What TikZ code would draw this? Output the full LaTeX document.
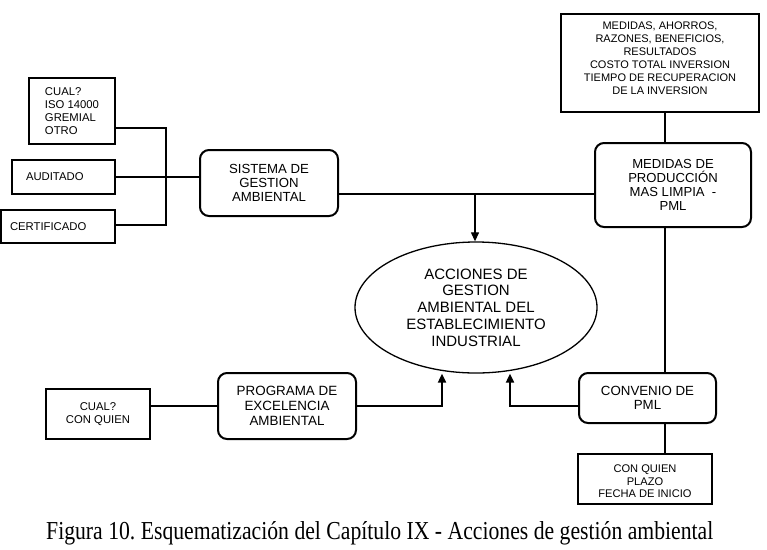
\documentclass[tikz,border=0pt]{standalone}
\usepackage{fontspec}
\usepackage{graphicx}
\setmainfont{Liberation Sans}
\newfontfamily\capfont{Liberation Serif}
\usetikzlibrary{arrows.meta,shapes.geometric}
\frenchspacing
\tikzset{
  rbox/.style={draw, line width=2.4pt, rectangle, inner sep=0pt, align=center},
  rrbox/.style={draw, line width=2pt, rectangle, rounded corners=9pt, inner sep=0pt, align=center},
  conn/.style={line width=2pt},
  arr/.style={line width=2pt, -{Triangle[width=8pt,length=9pt]}},
  fs/.style={font=\fontsize{11.3pt}{12.8pt}\selectfont},
}
\begin{document}
\begin{tikzpicture}[x=1pt,y=-1pt]
\useasboundingbox (0,0) rectangle (767,549);
% left group
\node[rbox, fs, align=left, minimum width=86pt, minimum height=66pt] (cual) at (72,111) {CUAL?\\ISO 14000\\GREMIAL\\OTRO};
\node[rbox, fs, align=left, inner xsep=14pt, text width=75pt, minimum height=34pt] (aud) at (63.5,177) {AUDITADO};
\node[rbox, fs, align=left, inner xsep=9pt, text width=96pt, minimum height=33pt] (cert) at (58,226.5) {CERTIFICADO};
\node[rrbox, font=\fontsize{13.2pt}{14.2pt}\selectfont, minimum width=138pt, minimum height=66pt] (sga) at (269,183) {SISTEMA DE\\GESTION\\AMBIENTAL};
% right top
\node[rbox, minimum width=198pt, minimum height=98pt] (top) at (660,63) {};
\node[align=center, inner sep=0pt, font=\fontsize{11pt}{12.9pt}\selectfont] (toptext) at ([yshift=4.8pt]top.center) {MEDIDAS, AHORROS,\\RAZONES, BENEFICIOS,\\RESULTADOS\\COSTO TOTAL INVERSION\\TIEMPO DE RECUPERACION\\DE LA INVERSION};
\node[rrbox, font=\fontsize{13.1pt}{14pt}\selectfont, minimum width=156pt, minimum height=84pt] (pml) at (673,185) {MEDIDAS DE\\PRODUCCIÓN\\MAS LIMPIA~~-\\PML};
% centre
\node[ellipse, draw, line width=1.3pt, inner sep=0pt, minimum width=242pt, minimum height=131pt, align=center, font=\fontsize{15pt}{16.7pt}\selectfont] (ell) at (476,307.5) {ACCIONES DE\\GESTION\\AMBIENTAL DEL\\ESTABLECIMIENTO\\INDUSTRIAL};
% bottom
\node[rbox, fs, minimum width=104pt, minimum height=50pt] (cual2) at (98,414) {CUAL?\\CON QUIEN};
\node[rrbox, font=\fontsize{13.4pt}{15pt}\selectfont, minimum width=138pt, minimum height=66pt] (prog) at (287,406) {PROGRAMA DE\\EXCELENCIA\\AMBIENTAL};
\node[rrbox, font=\fontsize{13.3pt}{14.3pt}\selectfont, minimum width=137pt, minimum height=50pt] (conv) at (647.5,398) {CONVENIO DE\\PML};
\node[rbox, minimum width=134pt, minimum height=50pt] (cq) at (645,479) {};
\node[align=center, inner sep=0pt, font=\fontsize{11.1pt}{12.4pt}\selectfont] (cqtext) at ([yshift=-2.5pt]cq.center) {CON QUIEN\\PLAZO\\FECHA DE INICIO};
% coordinates
\coordinate (b1) at (166,128);
\coordinate (b3) at (166,225);
\coordinate (j) at (475,194);
\coordinate (v) at (665,0);
\coordinate (ya) at (442,406);
\coordinate (yb) at (510,406);
% connectors
\draw[conn] (cual.east |- b1) -- (b1) -- (b3) -- (cert.east |- b3);
\draw[conn] (aud.east) -- (aud.east -| sga.west);
\draw[conn, line width=2.3pt] (sga.east |- j) -- (pml.west |- j);
\draw[line width=1.2pt, -{Triangle[width=8pt,length=9pt]}] (j) -- (j |- ell.north);
\draw[conn, line width=2.4pt] (top.south -| v) -- (pml.north -| v);
\draw[conn, line width=2.4pt] (pml.south -| v) -- (conv.north -| v);
\draw[conn, line width=2.4pt] (conv.south -| v) -- (cq.north -| v);
\draw[conn] (cual2.east |- ya) -- (prog.west |- ya);
\draw[arr] (prog.east |- ya) -- (ya) -- (ya |- ell.south);
\draw[arr] (conv.west |- yb) -- (yb) -- (yb |- ell.south);
% caption
\node[anchor=base west, inner sep=0pt] (cap) at (46,539.3) {\resizebox{667pt}{18pt}{\capfont Figura 10. Esquematización del Capítulo IX - Acciones de gestión ambiental}};
\end{tikzpicture}
\end{document}
